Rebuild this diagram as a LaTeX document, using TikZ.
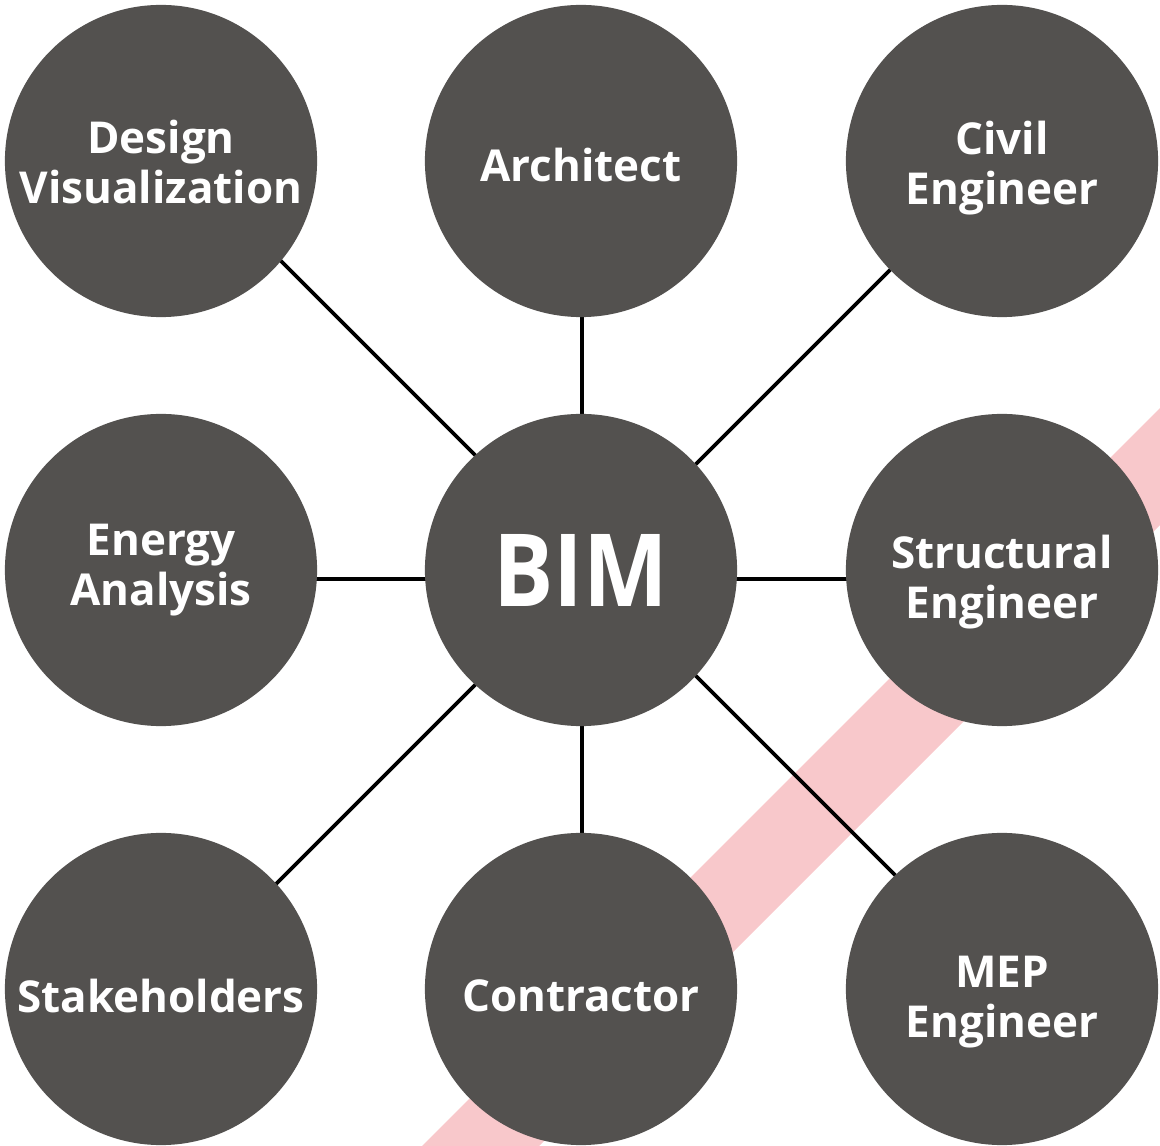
\documentclass[tikz,border=0pt]{standalone}
\usepackage{fontspec}
\setmainfont{Open Sans}
\usepackage{graphicx}
\usetikzlibrary{backgrounds}
\definecolor{bimgray}{HTML}{53514F}
\definecolor{bandpink}{HTML}{F8C8CB}
\tikzset{
	hub/.style={circle, fill=bimgray, minimum size=3.12cm, inner sep=0pt},
	tag/.style={text=white, align=center, inner sep=0pt, font=\bfseries\fontsize{12.5}{14.2}\selectfont},
	link/.style={line width=1.1pt},
}

\begin{document}
\begin{tikzpicture}[x=0.01cm, y=-0.01cm]
	\useasboundingbox (0,0) rectangle (1160,1146);
	\node[hub] (dv) at (161,161) {};
	\node[hub] (ar) at (581,161) {};
	\node[hub] (ce) at (1002,161) {};
	\node[hub] (ea) at (161,570) {};
	\node[hub] (bim) at (581,570) {};
	\node[hub] (se) at (1002,570) {};
	\node[hub] (sh) at (161,989) {};
	\node[hub] (co) at (581,989) {};
	\node[hub] (mep) at (1002,989) {};
	\node[tag] (dv-t) at ([shift={(0,1)}]dv) {Design\\Visualization};
	\node[tag] (ar-t) at ([shift={(0,4)}]ar) {Architect};
	\node[tag] (ce-t) at ([shift={(0,7)}]ce) {Civil\\Engineer};
	\node[tag] (ea-t) at (ea) {Energy\\Analysis};
	\node[tag, font=\bfseries\fontsize{28.7}{30}\selectfont] (bim-t) at (bim) {\scalebox{0.89}[1]{BIM}};
	\node[tag] (se-t) at ([shift={(0,12)}]se) {Structural\\Engineer};
	\node[tag] (sh-t) at ([shift={(0,7)}]sh) {Stakeholders};
	\node[tag] (co-t) at ([shift={(0,7)}]co) {Contractor};
	\node[tag] (mep-t) at ([shift={(0,13)}]mep) {MEP\\Engineer};
	\coordinate (cross) at ([shift={(9,0)}]bim.center);
	\begin{scope}[on background layer]
		\fill[bandpink] (1160,408) -- (1160,525) -- (539,1146) -- (422,1146) -- cycle;
		\draw[link] (cross) -- ([shift={(10,-10)}]dv.center);
		\draw[link] (cross) -- ([shift={(-2,-1)}]ce.center);
		\draw[link] (cross) -- ([shift={(5,5)}]sh.center);
		\draw[link] (cross) -- ([shift={(3,-4)}]mep.center);
		\draw[link] ([shift={(1,0)}]bim.center) -- ([shift={(1,0)}]ar.center);
		\draw[link] ([shift={(1,0)}]bim.center) -- ([shift={(1,0)}]co.center);
		\draw[link] ([shift={(0,9)}]bim.center) -- ([shift={(0,9)}]ea.center);
		\draw[link] ([shift={(0,9)}]bim.center) -- ([shift={(0,9)}]se.center);
	\end{scope}
\end{tikzpicture}
\end{document}
